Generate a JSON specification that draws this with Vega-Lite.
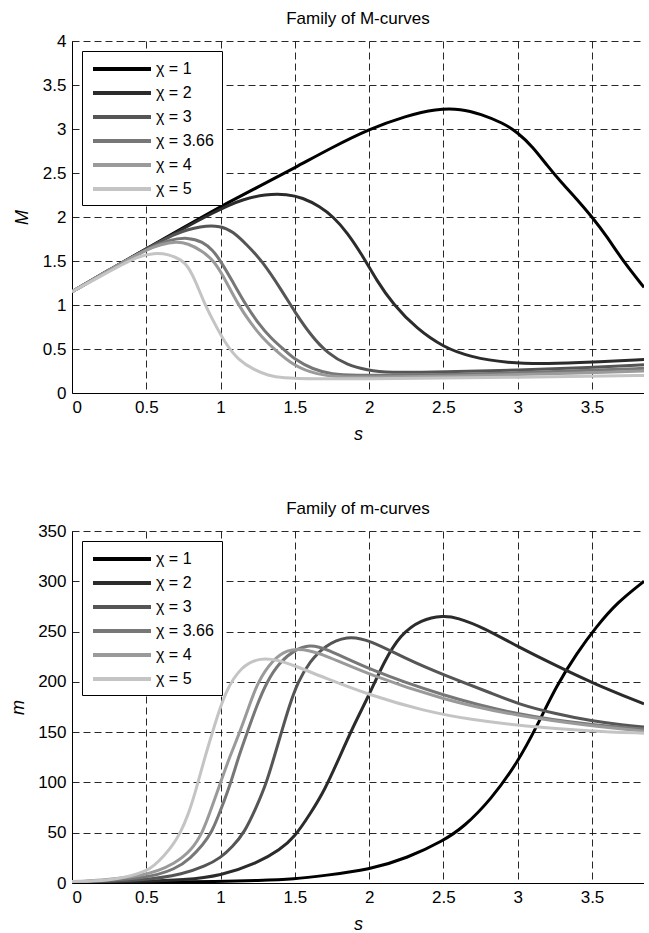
{
  "$schema": "https://vega.github.io/schema/vega-lite/v6.json",
  "padding": {"left": 9, "top": 10, "right": 0, "bottom": 0},
  "spacing": 57,
  "datasets": {
    "Mdat": [
      {"chi": "χ = 1", "s": 0, "v": 1.15}, {"chi": "χ = 1", "s": 0.25, "v": 1.4}, {"chi": "χ = 1", "s": 0.5, "v": 1.64}, {"chi": "χ = 1", "s": 0.75, "v": 1.88}, {"chi": "χ = 1", "s": 1.0, "v": 2.12}, {"chi": "χ = 1", "s": 1.25, "v": 2.34}, {"chi": "χ = 1", "s": 1.5, "v": 2.56}, {"chi": "χ = 1", "s": 1.75, "v": 2.79}, {"chi": "χ = 1", "s": 2.0, "v": 3.0}, {"chi": "χ = 1", "s": 2.25, "v": 3.15}, {"chi": "χ = 1", "s": 2.45, "v": 3.23}, {"chi": "χ = 1", "s": 2.62, "v": 3.23}, {"chi": "χ = 1", "s": 2.75, "v": 3.17}, {"chi": "χ = 1", "s": 2.9, "v": 3.07}, {"chi": "χ = 1", "s": 3.0, "v": 2.96}, {"chi": "χ = 1", "s": 3.1, "v": 2.8}, {"chi": "χ = 1", "s": 3.2, "v": 2.58}, {"chi": "χ = 1", "s": 3.3, "v": 2.38}, {"chi": "χ = 1", "s": 3.4, "v": 2.2}, {"chi": "χ = 1", "s": 3.5, "v": 2.0}, {"chi": "χ = 1", "s": 3.6, "v": 1.78}, {"chi": "χ = 1", "s": 3.7, "v": 1.52}, {"chi": "χ = 1", "s": 3.85, "v": 1.2},
      {"chi": "χ = 2", "s": 0, "v": 1.15}, {"chi": "χ = 2", "s": 0.5, "v": 1.64}, {"chi": "χ = 2", "s": 1.0, "v": 2.1}, {"chi": "χ = 2", "s": 1.15, "v": 2.2}, {"chi": "χ = 2", "s": 1.3, "v": 2.26}, {"chi": "χ = 2", "s": 1.45, "v": 2.26}, {"chi": "χ = 2", "s": 1.55, "v": 2.22}, {"chi": "χ = 2", "s": 1.67, "v": 2.12}, {"chi": "χ = 2", "s": 1.76, "v": 2.0}, {"chi": "χ = 2", "s": 1.85, "v": 1.83}, {"chi": "χ = 2", "s": 1.96, "v": 1.55}, {"chi": "χ = 2", "s": 2.05, "v": 1.28}, {"chi": "χ = 2", "s": 2.16, "v": 1.01}, {"chi": "χ = 2", "s": 2.32, "v": 0.73}, {"chi": "χ = 2", "s": 2.5, "v": 0.52}, {"chi": "χ = 2", "s": 2.68, "v": 0.41}, {"chi": "χ = 2", "s": 2.93, "v": 0.34}, {"chi": "χ = 2", "s": 3.2, "v": 0.33}, {"chi": "χ = 2", "s": 3.5, "v": 0.35}, {"chi": "χ = 2", "s": 3.85, "v": 0.38},
      {"chi": "χ = 3", "s": 0, "v": 1.15}, {"chi": "χ = 3", "s": 0.5, "v": 1.64}, {"chi": "χ = 3", "s": 0.7, "v": 1.82}, {"chi": "χ = 3", "s": 0.87, "v": 1.9}, {"chi": "χ = 3", "s": 1.0, "v": 1.9}, {"chi": "χ = 3", "s": 1.08, "v": 1.84}, {"chi": "χ = 3", "s": 1.18, "v": 1.68}, {"chi": "χ = 3", "s": 1.28, "v": 1.5}, {"chi": "χ = 3", "s": 1.41, "v": 1.17}, {"chi": "χ = 3", "s": 1.5, "v": 0.92}, {"chi": "χ = 3", "s": 1.61, "v": 0.65}, {"chi": "χ = 3", "s": 1.72, "v": 0.45}, {"chi": "χ = 3", "s": 1.85, "v": 0.32}, {"chi": "χ = 3", "s": 1.99, "v": 0.26}, {"chi": "χ = 3", "s": 2.12, "v": 0.23}, {"chi": "χ = 3", "s": 2.5, "v": 0.24}, {"chi": "χ = 3", "s": 3.0, "v": 0.26}, {"chi": "χ = 3", "s": 3.5, "v": 0.29}, {"chi": "χ = 3", "s": 3.85, "v": 0.32},
      {"chi": "χ = 3.66", "s": 0, "v": 1.15}, {"chi": "χ = 3.66", "s": 0.5, "v": 1.64}, {"chi": "χ = 3.66", "s": 0.65, "v": 1.74}, {"chi": "χ = 3.66", "s": 0.78, "v": 1.77}, {"chi": "χ = 3.66", "s": 0.88, "v": 1.72}, {"chi": "χ = 3.66", "s": 0.95, "v": 1.62}, {"chi": "χ = 3.66", "s": 1.0, "v": 1.5}, {"chi": "χ = 3.66", "s": 1.08, "v": 1.27}, {"chi": "χ = 3.66", "s": 1.17, "v": 1.0}, {"chi": "χ = 3.66", "s": 1.25, "v": 0.8}, {"chi": "χ = 3.66", "s": 1.34, "v": 0.62}, {"chi": "χ = 3.66", "s": 1.43, "v": 0.49}, {"chi": "χ = 3.66", "s": 1.5, "v": 0.38}, {"chi": "χ = 3.66", "s": 1.62, "v": 0.27}, {"chi": "χ = 3.66", "s": 1.75, "v": 0.21}, {"chi": "χ = 3.66", "s": 1.9, "v": 0.2}, {"chi": "χ = 3.66", "s": 2.2, "v": 0.2}, {"chi": "χ = 3.66", "s": 2.6, "v": 0.21}, {"chi": "χ = 3.66", "s": 3.0, "v": 0.23}, {"chi": "χ = 3.66", "s": 3.5, "v": 0.26}, {"chi": "χ = 3.66", "s": 3.85, "v": 0.28},
      {"chi": "χ = 4", "s": 0, "v": 1.15}, {"chi": "χ = 4", "s": 0.25, "v": 1.4}, {"chi": "χ = 4", "s": 0.5, "v": 1.63}, {"chi": "χ = 4", "s": 0.6, "v": 1.69}, {"chi": "χ = 4", "s": 0.7, "v": 1.72}, {"chi": "χ = 4", "s": 0.78, "v": 1.7}, {"chi": "χ = 4", "s": 0.87, "v": 1.62}, {"chi": "χ = 4", "s": 0.96, "v": 1.5}, {"chi": "χ = 4", "s": 1.04, "v": 1.26}, {"chi": "χ = 4", "s": 1.12, "v": 1.0}, {"chi": "χ = 4", "s": 1.2, "v": 0.8}, {"chi": "χ = 4", "s": 1.28, "v": 0.63}, {"chi": "χ = 4", "s": 1.36, "v": 0.5}, {"chi": "χ = 4", "s": 1.5, "v": 0.3}, {"chi": "χ = 4", "s": 1.65, "v": 0.21}, {"chi": "χ = 4", "s": 1.8, "v": 0.18}, {"chi": "χ = 4", "s": 2.0, "v": 0.18}, {"chi": "χ = 4", "s": 2.5, "v": 0.19}, {"chi": "χ = 4", "s": 3.0, "v": 0.21}, {"chi": "χ = 4", "s": 3.5, "v": 0.23}, {"chi": "χ = 4", "s": 3.85, "v": 0.25},
      {"chi": "χ = 5", "s": 0, "v": 1.15}, {"chi": "χ = 5", "s": 0.25, "v": 1.38}, {"chi": "χ = 5", "s": 0.45, "v": 1.56}, {"chi": "χ = 5", "s": 0.55, "v": 1.59}, {"chi": "χ = 5", "s": 0.65, "v": 1.58}, {"chi": "χ = 5", "s": 0.74, "v": 1.51}, {"chi": "χ = 5", "s": 0.78, "v": 1.44}, {"chi": "χ = 5", "s": 0.83, "v": 1.28}, {"chi": "χ = 5", "s": 0.89, "v": 1.02}, {"chi": "χ = 5", "s": 0.96, "v": 0.79}, {"chi": "χ = 5", "s": 1.03, "v": 0.57}, {"chi": "χ = 5", "s": 1.12, "v": 0.37}, {"chi": "χ = 5", "s": 1.23, "v": 0.26}, {"chi": "χ = 5", "s": 1.32, "v": 0.2}, {"chi": "χ = 5", "s": 1.41, "v": 0.17}, {"chi": "χ = 5", "s": 1.63, "v": 0.16}, {"chi": "χ = 5", "s": 2.0, "v": 0.16}, {"chi": "χ = 5", "s": 2.5, "v": 0.17}, {"chi": "χ = 5", "s": 3.0, "v": 0.18}, {"chi": "χ = 5", "s": 3.5, "v": 0.19}, {"chi": "χ = 5", "s": 3.85, "v": 0.2}
    ],
    "mdat": [
      {"chi": "χ = 1", "s": 0, "v": 0.5}, {"chi": "χ = 1", "s": 0.5, "v": 0.8}, {"chi": "χ = 1", "s": 1.0, "v": 1.5}, {"chi": "χ = 1", "s": 1.25, "v": 2.5}, {"chi": "χ = 1", "s": 1.5, "v": 4}, {"chi": "χ = 1", "s": 1.7, "v": 7.5}, {"chi": "χ = 1", "s": 2.0, "v": 13}, {"chi": "χ = 1", "s": 2.26, "v": 25}, {"chi": "χ = 1", "s": 2.5, "v": 42}, {"chi": "χ = 1", "s": 2.64, "v": 56}, {"chi": "χ = 1", "s": 2.82, "v": 83}, {"chi": "χ = 1", "s": 3.0, "v": 120}, {"chi": "χ = 1", "s": 3.13, "v": 156}, {"chi": "χ = 1", "s": 3.26, "v": 196}, {"chi": "χ = 1", "s": 3.4, "v": 229}, {"chi": "χ = 1", "s": 3.53, "v": 255}, {"chi": "χ = 1", "s": 3.67, "v": 279}, {"chi": "χ = 1", "s": 3.85, "v": 300},
      {"chi": "χ = 2", "s": 0, "v": 1}, {"chi": "χ = 2", "s": 0.5, "v": 1.5}, {"chi": "χ = 2", "s": 0.75, "v": 3}, {"chi": "χ = 2", "s": 1.0, "v": 7}, {"chi": "χ = 2", "s": 1.25, "v": 20}, {"chi": "χ = 2", "s": 1.4, "v": 33}, {"chi": "χ = 2", "s": 1.5, "v": 46}, {"chi": "χ = 2", "s": 1.6, "v": 68}, {"chi": "χ = 2", "s": 1.7, "v": 92}, {"chi": "χ = 2", "s": 1.8, "v": 125}, {"chi": "χ = 2", "s": 1.9, "v": 158}, {"chi": "χ = 2", "s": 2.0, "v": 187}, {"chi": "χ = 2", "s": 2.1, "v": 220}, {"chi": "χ = 2", "s": 2.21, "v": 247}, {"chi": "χ = 2", "s": 2.35, "v": 262}, {"chi": "χ = 2", "s": 2.5, "v": 266}, {"chi": "χ = 2", "s": 2.59, "v": 264}, {"chi": "χ = 2", "s": 2.77, "v": 254}, {"chi": "χ = 2", "s": 3.0, "v": 235}, {"chi": "χ = 2", "s": 3.26, "v": 216}, {"chi": "χ = 2", "s": 3.5, "v": 199}, {"chi": "χ = 2", "s": 3.85, "v": 178},
      {"chi": "χ = 3", "s": 0, "v": 1}, {"chi": "χ = 3", "s": 0.5, "v": 2.5}, {"chi": "χ = 3", "s": 0.75, "v": 9}, {"chi": "χ = 3", "s": 0.9, "v": 17}, {"chi": "χ = 3", "s": 1.0, "v": 25}, {"chi": "χ = 3", "s": 1.08, "v": 36}, {"chi": "χ = 3", "s": 1.16, "v": 50}, {"chi": "χ = 3", "s": 1.24, "v": 75}, {"chi": "χ = 3", "s": 1.31, "v": 100}, {"chi": "χ = 3", "s": 1.36, "v": 125}, {"chi": "χ = 3", "s": 1.41, "v": 150}, {"chi": "χ = 3", "s": 1.46, "v": 175}, {"chi": "χ = 3", "s": 1.52, "v": 200}, {"chi": "χ = 3", "s": 1.6, "v": 220}, {"chi": "χ = 3", "s": 1.7, "v": 236}, {"chi": "χ = 3", "s": 1.85, "v": 246}, {"chi": "χ = 3", "s": 2.0, "v": 242}, {"chi": "χ = 3", "s": 2.26, "v": 222}, {"chi": "χ = 3", "s": 2.5, "v": 207}, {"chi": "χ = 3", "s": 2.82, "v": 189}, {"chi": "χ = 3", "s": 3.0, "v": 178}, {"chi": "χ = 3", "s": 3.26, "v": 168}, {"chi": "χ = 3", "s": 3.5, "v": 161}, {"chi": "χ = 3", "s": 3.71, "v": 157}, {"chi": "χ = 3", "s": 3.85, "v": 155},
      {"chi": "χ = 3.66", "s": 0, "v": 1}, {"chi": "χ = 3.66", "s": 0.5, "v": 4}, {"chi": "χ = 3.66", "s": 0.7, "v": 14}, {"chi": "χ = 3.66", "s": 0.8, "v": 25}, {"chi": "χ = 3.66", "s": 0.88, "v": 38}, {"chi": "χ = 3.66", "s": 0.94, "v": 50}, {"chi": "χ = 3.66", "s": 1.0, "v": 72}, {"chi": "χ = 3.66", "s": 1.07, "v": 100}, {"chi": "χ = 3.66", "s": 1.12, "v": 125}, {"chi": "χ = 3.66", "s": 1.18, "v": 150}, {"chi": "χ = 3.66", "s": 1.24, "v": 175}, {"chi": "χ = 3.66", "s": 1.31, "v": 200}, {"chi": "χ = 3.66", "s": 1.4, "v": 220}, {"chi": "χ = 3.66", "s": 1.5, "v": 232}, {"chi": "χ = 3.66", "s": 1.6, "v": 237}, {"chi": "χ = 3.66", "s": 1.7, "v": 234}, {"chi": "χ = 3.66", "s": 2.0, "v": 212}, {"chi": "χ = 3.66", "s": 2.5, "v": 186}, {"chi": "χ = 3.66", "s": 3.0, "v": 167}, {"chi": "χ = 3.66", "s": 3.5, "v": 157}, {"chi": "χ = 3.66", "s": 3.85, "v": 153},
      {"chi": "χ = 4", "s": 0, "v": 1}, {"chi": "χ = 4", "s": 0.5, "v": 6}, {"chi": "χ = 4", "s": 0.7, "v": 20}, {"chi": "χ = 4", "s": 0.8, "v": 32}, {"chi": "χ = 4", "s": 0.88, "v": 50}, {"chi": "χ = 4", "s": 0.94, "v": 75}, {"chi": "χ = 4", "s": 1.0, "v": 100}, {"chi": "χ = 4", "s": 1.06, "v": 125}, {"chi": "χ = 4", "s": 1.13, "v": 150}, {"chi": "χ = 4", "s": 1.19, "v": 175}, {"chi": "χ = 4", "s": 1.25, "v": 200}, {"chi": "χ = 4", "s": 1.35, "v": 222}, {"chi": "χ = 4", "s": 1.45, "v": 232}, {"chi": "χ = 4", "s": 1.55, "v": 233}, {"chi": "χ = 4", "s": 1.7, "v": 227}, {"chi": "χ = 4", "s": 2.0, "v": 207}, {"chi": "χ = 4", "s": 2.5, "v": 182}, {"chi": "χ = 4", "s": 3.0, "v": 166}, {"chi": "χ = 4", "s": 3.5, "v": 156}, {"chi": "χ = 4", "s": 3.85, "v": 151},
      {"chi": "χ = 5", "s": 0, "v": 1.5}, {"chi": "χ = 5", "s": 0.25, "v": 2.5}, {"chi": "χ = 5", "s": 0.4, "v": 7}, {"chi": "χ = 5", "s": 0.5, "v": 12}, {"chi": "χ = 5", "s": 0.55, "v": 17}, {"chi": "χ = 5", "s": 0.62, "v": 27}, {"chi": "χ = 5", "s": 0.68, "v": 38}, {"chi": "χ = 5", "s": 0.73, "v": 50}, {"chi": "χ = 5", "s": 0.78, "v": 67}, {"chi": "χ = 5", "s": 0.83, "v": 90}, {"chi": "χ = 5", "s": 0.89, "v": 123}, {"chi": "χ = 5", "s": 0.96, "v": 157}, {"chi": "χ = 5", "s": 1.03, "v": 190}, {"chi": "χ = 5", "s": 1.14, "v": 216}, {"chi": "χ = 5", "s": 1.27, "v": 224}, {"chi": "χ = 5", "s": 1.38, "v": 222}, {"chi": "χ = 5", "s": 1.5, "v": 216}, {"chi": "χ = 5", "s": 1.7, "v": 204}, {"chi": "χ = 5", "s": 2.0, "v": 187}, {"chi": "χ = 5", "s": 2.37, "v": 171}, {"chi": "χ = 5", "s": 2.7, "v": 162}, {"chi": "χ = 5", "s": 3.04, "v": 156}, {"chi": "χ = 5", "s": 3.49, "v": 151}, {"chi": "χ = 5", "s": 3.85, "v": 149}
    ]
  },
  "vconcat": [
    {
      "title": "Family of M-curves",
      "width": 572,
      "height": 352,
      "data": {"name": "Mdat"},
      "mark": {"type": "line", "clip": true, "strokeWidth": 3, "interpolate": "basis"},
      "encoding": {
        "x": {"field": "s", "type": "quantitative", "scale": {"domain": [0, 3.85], "nice": false}, "axis": {"title": "s", "values": [0, 0.5, 1, 1.5, 2, 2.5, 3, 3.5], "format": ".2~f"}},
        "y": {"field": "v", "type": "quantitative", "scale": {"domain": [0, 4], "nice": false}, "axis": {"title": "M", "values": [0, 0.5, 1, 1.5, 2, 2.5, 3, 3.5, 4], "format": ".2~f", "titlePadding": 11}},
        "color": {"field": "chi", "type": "nominal", "scale": {"domain": ["χ = 1", "χ = 2", "χ = 3", "χ = 3.66", "χ = 4", "χ = 5"], "range": ["#000000", "#2b2b2b", "#555555", "#777777", "#9a9a9a", "#c4c4c4"]}, "legend": {"title": null}}
      }
    },
    {
      "title": "Family of m-curves",
      "width": 572,
      "height": 352,
      "data": {"name": "mdat"},
      "mark": {"type": "line", "clip": true, "strokeWidth": 3, "interpolate": "basis"},
      "encoding": {
        "x": {"field": "s", "type": "quantitative", "scale": {"domain": [0, 3.85], "nice": false}, "axis": {"title": "s", "values": [0, 0.5, 1, 1.5, 2, 2.5, 3, 3.5], "format": ".2~f"}},
        "y": {"field": "v", "type": "quantitative", "scale": {"domain": [0, 350], "nice": false}, "axis": {"title": "m", "values": [0, 50, 100, 150, 200, 250, 300, 350], "format": "d", "titlePadding": 10}},
        "color": {"field": "chi", "type": "nominal", "scale": {"domain": ["χ = 1", "χ = 2", "χ = 3", "χ = 3.66", "χ = 4", "χ = 5"], "range": ["#000000", "#2b2b2b", "#555555", "#777777", "#9a9a9a", "#c4c4c4"]}, "legend": {"title": null}}
      }
    }
  ],
  "resolve": {"scale": {"color": "independent"}, "legend": {"color": "independent"}},
  "config": {
    "font": "Liberation Sans",
    "view": {"stroke": null},
    "axis": {"grid": true, "gridColor": "#111111", "gridDash": [7, 4], "gridOpacity": 0.9, "gridWidth": 1, "domainColor": "#000000", "domainWidth": 1, "ticks": false, "labelFontSize": 17, "labelColor": "#000000", "labelPadding": 6, "titleFontSize": 18, "titleFontStyle": "italic", "titleFontWeight": "normal", "titleColor": "#000000"},
    "axisX": {"titlePadding": 10},
    "title": {"fontSize": 17, "fontWeight": "normal", "color": "#000000", "offset": 4},
    "legend": {"orient": "top-left", "offset": 10, "strokeColor": "#000000", "fillColor": "#ffffff", "padding": 8, "symbolType": "M-0.875,0H6.375", "symbolSize": 256, "symbolStrokeWidth": 4, "labelFontSize": 16, "labelOffset": 46, "rowPadding": 6, "labelColor": "#000000", "symbolOpacity": 1}
  }
}
